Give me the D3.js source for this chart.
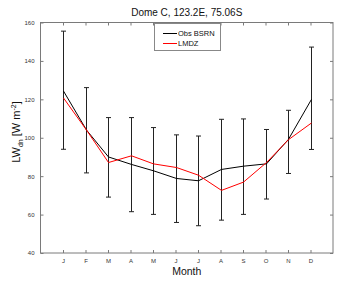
<!DOCTYPE html>
<html><head><meta charset="utf-8">
<script src="https://cdn.jsdelivr.net/npm/d3@7"></script>
<style>body{margin:0;background:#fff}svg{display:block;font-family:"Liberation Sans",Arial,sans-serif}</style>
</head><body><svg id="c" width="337" height="284"></svg>
<script>
const months = ["J","F","M","A","M","J","J","A","S","O","N","D"];
const obs  = [124.3, 104, 90, 86.1, 82.8, 78.8, 77.6, 83.5, 85.2, 86.4, 99.2, 120];
const lmdz = [120.7, 104, 87.1, 90.6, 86.4, 84.5, 80.5, 72.6, 76.9, 87.1, 99, 107.7];
const obsHigh = [155.5, 126.1, 110.5, 110.5, 105.3, 101.5, 100.9, 109.6, 109.8, 104.3, 114.3, 147.2];
const obsLow  = [94, 81.7, 69.1, 61.5, 60.1, 55.9, 54.2, 57.1, 60.1, 68.1, 81.4, 93.9];
const yTicks = [40, 60, 80, 100, 120, 140, 160];
const title = "Dome C, 123.2E, 75.06S";
const seriesNames = ["Obs BSRN", "LMDZ"];

const svg = d3.select("#c");
const L = 40.5, R = 333, T = 22.5, B = 253;
const x = d3.scaleLinear().domain([0, 13]).range([L, R]);
const y = d3.scaleLinear().domain([40, 160]).range([B, T]);
const idx = d3.range(1, 13);
const axisCol = "#7a7a7a";

// box
svg.append("rect").attr("x", L).attr("y", T).attr("width", R - L).attr("height", B - T)
  .attr("fill", "none").attr("stroke", axisCol).attr("stroke-width", 1);

// axes via d3
const gx = svg.append("g").attr("transform", `translate(0,${B})`)
  .call(d3.axisBottom(x).tickValues(idx).tickFormat(d => months[d - 1]).tickSizeInner(-3).tickSizeOuter(0).tickPadding(6));
const gxt = svg.append("g").attr("transform", `translate(0,${T})`)
  .call(d3.axisTop(x).tickValues(idx).tickFormat("").tickSizeInner(-3).tickSizeOuter(0));
const gy = svg.append("g").attr("transform", `translate(${L},0)`)
  .call(d3.axisLeft(y).tickValues(yTicks).tickSizeInner(-3).tickSizeOuter(0).tickPadding(6));
const gyr = svg.append("g").attr("transform", `translate(${R},0)`)
  .call(d3.axisRight(y).tickValues(yTicks).tickFormat("").tickSizeInner(-3).tickSizeOuter(0));
[gx, gxt, gy, gyr].forEach(g => {
  g.select(".domain").remove();
  g.selectAll("line").attr("stroke", axisCol);
  g.selectAll("text").attr("fill", "#333").style("font-size", "6px").style("font-family", '"Liberation Sans",Arial,sans-serif');
});

// error bars
const eb = svg.append("g").attr("stroke", "#222").attr("stroke-width", 1);
idx.forEach((m, i) => {
  const cx = Math.round(x(m)) + 0.5;
  eb.append("line").attr("x1", cx).attr("x2", cx).attr("y1", y(obsHigh[i])).attr("y2", y(obsLow[i]));
  eb.append("line").attr("x1", cx - 2.5).attr("x2", cx + 2.5).attr("y1", y(obsHigh[i])).attr("y2", y(obsHigh[i]));
  eb.append("line").attr("x1", cx - 2.5).attr("x2", cx + 2.5).attr("y1", y(obsLow[i])).attr("y2", y(obsLow[i]));
});

const line = d3.line().x((d, i) => Math.round(x(i + 1)) + 0.5).y(d => y(d));
svg.append("path").datum(obs).attr("d", line).attr("fill", "none").attr("stroke", "#000").attr("stroke-width", 1);
svg.append("path").datum(lmdz).attr("d", line).attr("fill", "none").attr("stroke", "#ff0000").attr("stroke-width", 1);

// legend
const lg = svg.append("g");
lg.append("rect").attr("x", 154.5).attr("y", 23.5).attr("width", 66).attr("height", 27)
  .attr("fill", "#fff").attr("stroke", "#888");
[["#000", 0], ["#ff0000", 1]].forEach(([c, k]) => {
  const yy = 33.5 + k * 10;
  lg.append("line").attr("x1", 163).attr("x2", 177).attr("y1", yy).attr("y2", yy).attr("stroke", c);
  lg.append("text").attr("x", 178).attr("y", yy + 2.7).text(seriesNames[k]).style("font-size", "7.5px").attr("fill", "#111");
});

// title
svg.append("text").attr("x", (L + R) / 2).attr("y", 16).attr("text-anchor", "middle")
  .style("font-size", "10px").attr("fill", "#111").text(title);

// x label
svg.append("text").attr("x", (L + R) / 2).attr("y", 275).attr("text-anchor", "middle")
  .style("font-size", "10.5px").attr("fill", "#111").text("Month");

// y label
const yl = svg.append("text").attr("transform", "translate(20,132) rotate(-90)").attr("text-anchor", "middle")
  .style("font-size", "11px").attr("fill", "#111");
yl.append("tspan").text("LW");
yl.append("tspan").attr("dy", 3).style("font-size", "7px").text("dn");
yl.append("tspan").attr("dy", -3).text(" [W m");
yl.append("tspan").attr("dy", -4.5).style("font-size", "7px").text("-2");
yl.append("tspan").attr("dy", 4.5).text("]");
</script></body></html>
